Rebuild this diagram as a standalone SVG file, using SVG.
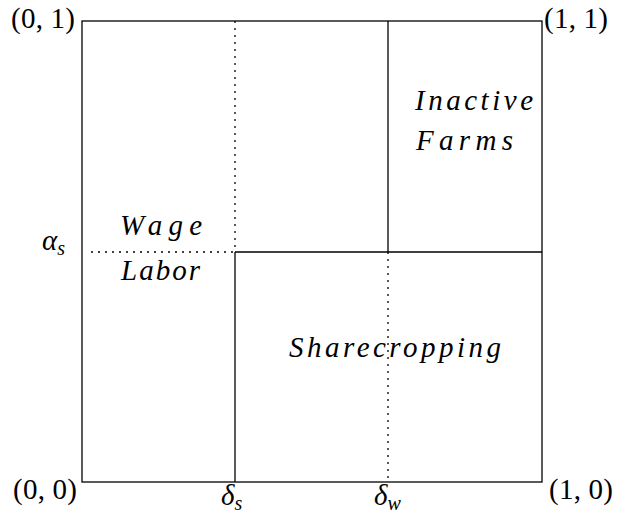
<svg xmlns="http://www.w3.org/2000/svg" width="618" height="520" viewBox="0 0 618 520">
<style>
.s{stroke:#000;stroke-width:1.3;fill:none}
.d{stroke:#000;stroke-width:1.3;fill:none;stroke-dasharray:2 5}
.t{font-size:29px;fill:#000}
.i{font-style:italic}
.sub{font-size:20px;font-style:italic}
</style>
<rect width="618" height="520" fill="#fff"/>
<g id="connectors">
<rect class="s" x="82" y="21" width="460" height="461"/>
<line class="s" x1="235" y1="252" x2="235" y2="482"/>
<line class="d" x1="235" y1="21" x2="235" y2="252"/>
<line class="s" x1="388" y1="21" x2="388" y2="252"/>
<line class="d" x1="388" y1="252" x2="388" y2="482"/>
<line class="s" x1="235" y1="252" x2="542" y2="252"/>
<line class="d" x1="91" y1="252" x2="235" y2="252"/>
</g>
<g id="corners" font-family="Liberation Serif">
<text class="t" x="11" y="28" textLength="64" lengthAdjust="spacing">(0, 1)</text>
<text class="t" x="544" y="28" textLength="64" lengthAdjust="spacing">(1, 1)</text>
<text class="t" x="13" y="499" textLength="64" lengthAdjust="spacing">(0, 0)</text>
<text class="t" x="549" y="499" textLength="64" lengthAdjust="spacing">(1, 0)</text>
</g>
<g id="axis-labels" font-family="Liberation Serif">
<text class="t i" x="42" y="250">α<tspan class="sub" dy="5">s</tspan></text>
<text class="t i" x="221" y="505">δ<tspan class="sub" dy="5">s</tspan></text>
<text class="t i" x="374" y="505">δ<tspan class="sub" dy="5">w</tspan></text>
</g>
<g id="wage-labor" font-family="Liberation Serif">
<text class="t i" x="120" y="235" textLength="82" lengthAdjust="spacing">Wage</text>
<text class="t i" x="121" y="280" textLength="79" lengthAdjust="spacing">Labor</text>
</g>
<g id="inactive-farms" font-family="Liberation Serif">
<text class="t i" x="415" y="110" textLength="118" lengthAdjust="spacing">Inactive</text>
<text class="t i" x="416" y="150" textLength="97" lengthAdjust="spacing">Farms</text>
</g>
<g id="sharecropping" font-family="Liberation Serif">
<text class="t i" x="289" y="357" textLength="212" lengthAdjust="spacing">Sharecropping</text>
</g>
</svg>
